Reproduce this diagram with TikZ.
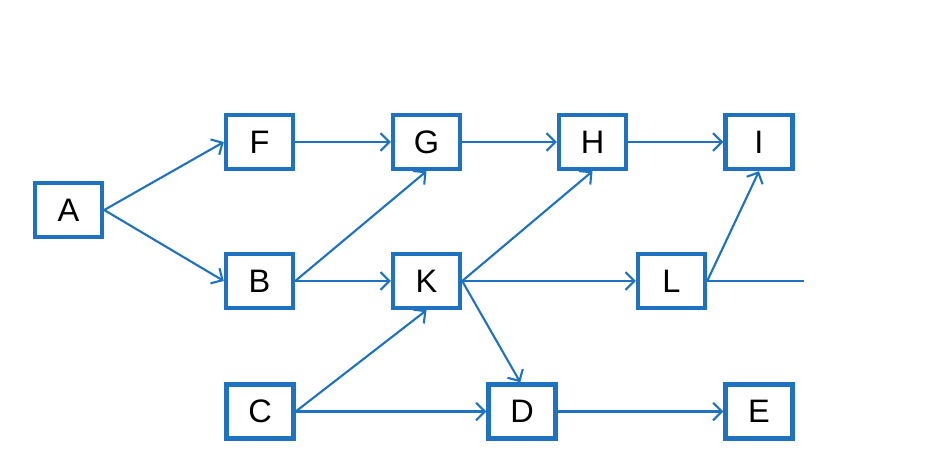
\documentclass[tikz,border=0pt]{standalone}
\usepackage{fontspec}
\setmainfont{Liberation Sans}
\usetikzlibrary{arrows.meta}

\definecolor{netblue}{RGB}{30,114,192}

\begin{document}
\begin{tikzpicture}[
    box/.style={draw=netblue, line width=2.5pt, fill=white, minimum width=1.34cm,
      minimum height=1.08cm, inner sep=0pt, font=\fontsize{18.5}{20}\selectfont},
    conn/.style={draw=netblue, line width=1.2pt,
      -{Straight Barb[length=5pt,width=10pt,line width=1.2pt]}}
  ]
    \useasboundingbox (0,0) rectangle (18.72,-9.14);
    % activities
    \node[box] (A) at (1.37,-4.2)   {A};
    \node[box] (F) at (5.19,-2.84)  {F};
    \node[box] (G) at (8.53,-2.84)  {G};
    \node[box] (H) at (11.85,-2.84) {H};
    \node[box] (I) at (15.18,-2.84) {I};
    \node[box] (B) at (5.19,-5.62)  {B};
    \node[box] (K) at (8.53,-5.62)  {K};
    \node[box] (L) at (13.43,-5.62) {L};
    \node[box] (C) at (5.2,-8.23)   {C};
    \node[box] (D) at (10.44,-8.23) {D};
    \node[box] (E) at (15.18,-8.23) {E};
    \coordinate (Lout) at (16.08,-5.62);

    % dependencies
    \draw[conn] (A.east) -- (F.west);
    \draw[conn] (A.east) -- (B.west);
    \draw[conn] (F) -- (G);
    \draw[conn] (G) -- (H);
    \draw[conn] (H) -- (I);
    \draw[conn] (B.east) -- (G.south);
    \draw[conn] (B) -- (K);
    \draw[conn] (C.east) -- (K.south);
    \draw[conn] (C) -- (D);
    \draw[conn] (K.east) -- (H.south);
    \draw[conn] (K) -- (L);
    \draw[conn] (K.east) -- ([xshift=-1pt]D.north);
    \draw[conn] (L.east) -- (I.south);
    \draw[conn] (D) -- (E);
    \draw[netblue, line width=1.2pt] (L.east) -- (Lout);
\end{tikzpicture}
\end{document}
